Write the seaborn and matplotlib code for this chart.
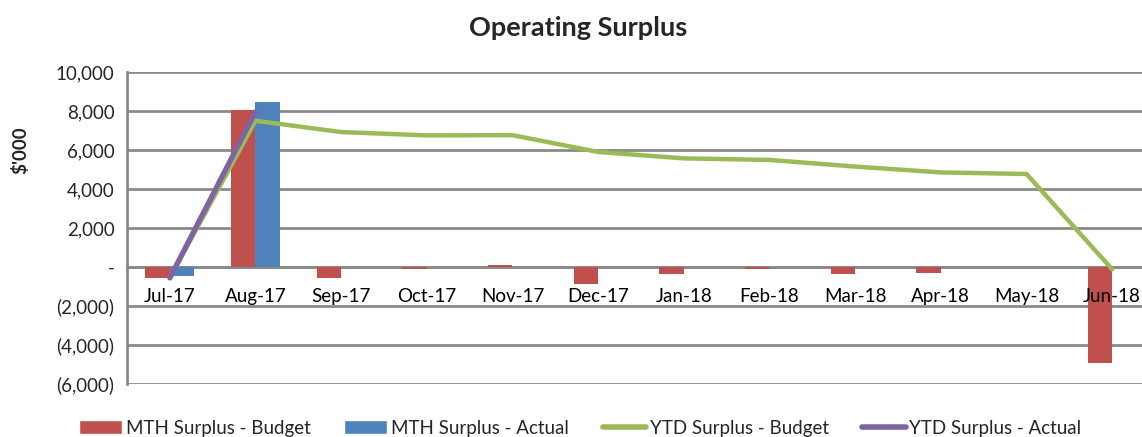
import numpy as np
import pandas as pd
import matplotlib
matplotlib.use("Agg")
import matplotlib.pyplot as plt
import seaborn as sns
from matplotlib.patches import Patch
from matplotlib.lines import Line2D
from matplotlib.ticker import FuncFormatter

months = ["Jul-17", "Aug-17", "Sep-17", "Oct-17", "Nov-17", "Dec-17",
          "Jan-18", "Feb-18", "Mar-18", "Apr-18", "May-18", "Jun-18"]
mth_budget = [-560, 8030, -560, -120, 100, -870, -360, -120, -360, -300, 0, -4900]
mth_actual = [-480, 8460, np.nan, np.nan, np.nan, np.nan, np.nan, np.nan, np.nan, np.nan, np.nan, np.nan]
ytd_budget = [-560, 7500, 6920, 6750, 6760, 5900, 5570, 5490, 5150, 4850, 4770, -120]
ytd_actual = [-560, 7960, np.nan, np.nan, np.nan, np.nan, np.nan, np.nan, np.nan, np.nan, np.nan, np.nan]
yticks = [-6000, -4000, -2000, 0, 2000, 4000, 6000, 8000, 10000]

labels = ["MTH Surplus - Budget", "MTH Surplus - Actual", "YTD Surplus - Budget", "YTD Surplus - Actual"]
colors = ["#C0504D", "#4F81BD", "#9BBB59", "#8064A2"]
grid_color = "#8a8a8a"

sns.set_style("white")
plt.rcParams["font.family"] = ["Lato", "DejaVu Sans"]

bars = pd.DataFrame({
    "month": months * 2,
    "value": mth_budget + mth_actual,
    "series": [labels[0]] * 12 + [labels[1]] * 12,
}).dropna()

fig = plt.figure(figsize=(11.42, 4.37), dpi=100)
ax = fig.add_axes([127 / 1142, 1 - 384 / 437, (1155 - 127) / 1142, (384 - 72) / 437])

sns.barplot(data=bars, x="month", y="value", hue="series", order=months,
            hue_order=labels[:2], palette=colors[:2], width=0.57, dodge=True,
            errorbar=None, ax=ax, legend=False, zorder=1.5, saturation=1,
            linewidth=0, edgecolor="none")

xpos = np.arange(len(months))
sns.lineplot(x=xpos, y=ytd_budget, color=colors[2], linewidth=3.2, ax=ax,
             zorder=2, solid_capstyle="round")
sns.lineplot(x=xpos, y=ytd_actual, color=colors[3], linewidth=3.8, ax=ax,
             zorder=2.1, solid_capstyle="round")

ax.set_xlim(-0.5, 11.5)
ax.set_ylim(min(yticks), max(yticks))
ax.set_yticks(yticks)

def fmt(v, pos):
    if abs(v) < 1e-6:
        return "-"
    if v < 0:
        return f"({abs(v):,.0f})"
    return f"{v:,.0f}"

ax.yaxis.set_major_formatter(FuncFormatter(fmt))
ax.grid(False)
for yv in yticks:
    ax.axhline(yv, color=grid_color, linewidth=2, zorder=0.5)
ax.set_axisbelow(False)

for s in ["top", "right"]:
    ax.spines[s].set_visible(False)
ax.spines["left"].set_color(grid_color)
ax.spines["left"].set_linewidth(2)
ax.spines["bottom"].set_position(("data", 0))
ax.spines["bottom"].set_color(grid_color)
ax.spines["bottom"].set_linewidth(2)
ax.spines["bottom"].set_zorder(1)

ax.set_xticks(xpos)
ax.set_xticklabels(months)
ax.set_xticks(np.arange(0.5, 11.6, 1), minor=True)
ax.tick_params(axis="x", which="major", length=0, pad=15, labelsize=13.5, colors="black")
ax.tick_params(axis="x", which="minor", length=5, width=2, color=grid_color, direction="out")
ax.tick_params(axis="y", length=5, width=2, color=grid_color, labelsize=13.5, pad=4)
ax.set_xlabel("")
ax.set_ylabel("")

fig.text(20 / 1142, 1 - 150 / 437, "$'000", rotation=90, ha="center", va="center",
         fontsize=13.5, fontweight="bold")
fig.text(578 / 1142, 1 - 28 / 437, "Operating Surplus", ha="center", va="center",
         fontsize=19.5, fontweight="bold")

handles = [Patch(facecolor=colors[0]), Patch(facecolor=colors[1]),
           Line2D([0], [0], color=colors[2], linewidth=4),
           Line2D([0], [0], color=colors[3], linewidth=4)]
fig.legend(handles, labels, loc="center", bbox_to_anchor=(0.508, 0.02), ncol=4,
           frameon=False, fontsize=13.5, handlelength=2.3, handletextpad=0.2,
           columnspacing=1.8, handleheight=0.75, borderpad=0)

fig.savefig("out.png", dpi=100)
